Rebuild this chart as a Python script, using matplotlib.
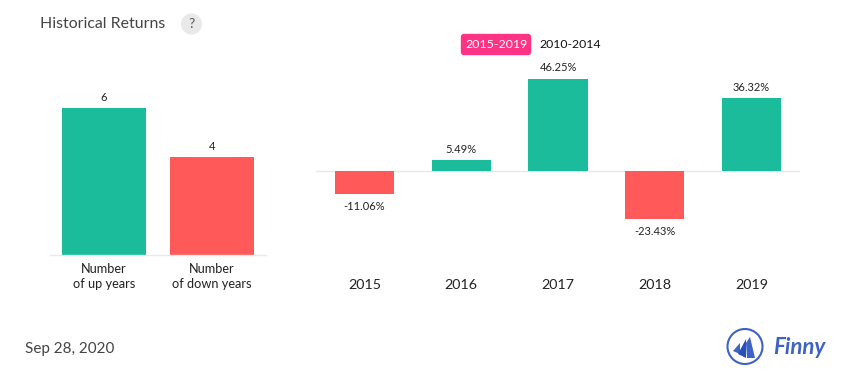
import matplotlib
matplotlib.use('Agg')
import matplotlib.pyplot as plt
from matplotlib.patches import Circle, FancyBboxPatch, Polygon

# Data
count_labels = ['Number\nof up years', 'Number\nof down years']
count_values = [6, 4]
years = ['2015', '2016', '2017', '2018', '2019']
returns = [-11.06, 5.49, 46.25, -23.43, 36.32]

TEAL = '#1abc9c'
RED = '#ff5959'
PINK = '#ff3385'
AXIS = '#e9e9e9'
TEXT = '#222222'
BLUE = '#3f63c4'
W, H = 855, 382

plt.rcParams['font.family'] = ['Lato', 'DejaVu Sans']


def px_axes(fig, left, right, top, bottom):
    """Axes placed by pixel edges of the image"""
    return fig.add_axes([left / W, 1 - bottom / H, (right - left) / W, (bottom - top) / H])


def clean(ax):
    ax.patch.set_visible(False)
    for side in ['top', 'right', 'left']:
        ax.spines[side].set_visible(False)
    ax.set_yticks([])
    ax.tick_params(axis='x', length=0)


fig = plt.figure(figsize=(W / 100, H / 100), dpi=100, facecolor='white')

# Left panel: up and down year counts
ax1 = px_axes(fig, 50, 266, 108, 255)
clean(ax1)
ax1.bar(range(2), count_values, width=0.778, color=[TEAL, RED])
ax1.set_xlim(-0.5, 1.5)
ax1.set_ylim(0, max(count_values))
ax1.spines['bottom'].set_color(AXIS)
ax1.spines['bottom'].set_linewidth(1)
ax1.set_xticks(range(2))
ax1.set_xticklabels(count_labels, fontsize=9.2, color=TEXT, linespacing=1.3)
ax1.tick_params(axis='x', pad=5.5)
for i, v in enumerate(count_values):
    ax1.annotate(str(v), (i, v), xytext=(0, 3.5), textcoords='offset points', ha='center',
                 va='bottom', fontsize=8, color=TEXT, annotation_clip=False)

# Right panel: yearly returns
ax2 = px_axes(fig, 316, 800, 78.5, 218.5)
clean(ax2)
ax2.bar(range(len(years)), returns, width=0.61, color=[TEAL if r > 0 else RED for r in returns])
ax2.set_xlim(-0.5, 4.5)
ax2.set_ylim(min(returns), max(returns))
ax2.spines['bottom'].set_visible(False)
ax2.axhline(0, color=AXIS, lw=1, zorder=0)
ax2.set_xticks(range(len(years)))
ax2.set_xticklabels(years, fontsize=10.3, color=TEXT)
ax2.tick_params(axis='x', pad=43.5)
for i, r in enumerate(returns):
    off = 4 if r > 0 else -5.5
    ax2.annotate(f'{r:.2f}%', (i, r), xytext=(0, off), textcoords='offset points', ha='center',
                 va='bottom' if r > 0 else 'top', fontsize=8, color=TEXT, annotation_clip=False)

# Overlay in image pixels for header, footer and logo
ov = fig.add_axes([0, 0, 1, 1])
ov.set_xlim(0, W)
ov.set_ylim(H, 0)
ov.axis('off')
ov.patch.set_visible(False)

ov.text(40, 24, 'Historical Returns', fontsize=11.4, color='#444444', va='center')
ov.add_patch(Circle((191.5, 24), 10.5, color='#e9e9e9', lw=0))
ov.text(191.5, 24, '?', fontsize=10, color='#555555', ha='center', va='center')

ov.add_patch(FancyBboxPatch((461.5, 34.5), 69, 20, boxstyle='round,pad=0,rounding_size=2.5',
                            facecolor=PINK, edgecolor=PINK, lw=1))
ov.text(496, 44.5, '2015-2019', fontsize=8.9, color='white', ha='center', va='center')
ov.text(570, 44.5, '2010-2014', fontsize=8.8, color='#111111', ha='center', va='center')

ov.text(25, 348.5, 'Sep 28, 2020', fontsize=11, color='#444444', va='center')

# Logo
ov.add_patch(Circle((745, 346.5), 17.5, facecolor='white', edgecolor=BLUE, lw=1.5))
for pts, col in [([(733, 351), (740, 343), (740, 354)], BLUE),
                 ([(738, 354), (746, 339), (746, 358)], '#2a4fb5'),
                 ([(746, 343), (750, 337), (755, 358), (747, 358)], BLUE)]:
    ov.add_patch(Polygon(pts, closed=True, facecolor=col, edgecolor='none'))
ov.text(773, 348, 'Finny', fontsize=16, color=BLUE, style='italic', fontweight='bold', va='center')

fig.savefig('out.png', dpi=100, facecolor='white')
